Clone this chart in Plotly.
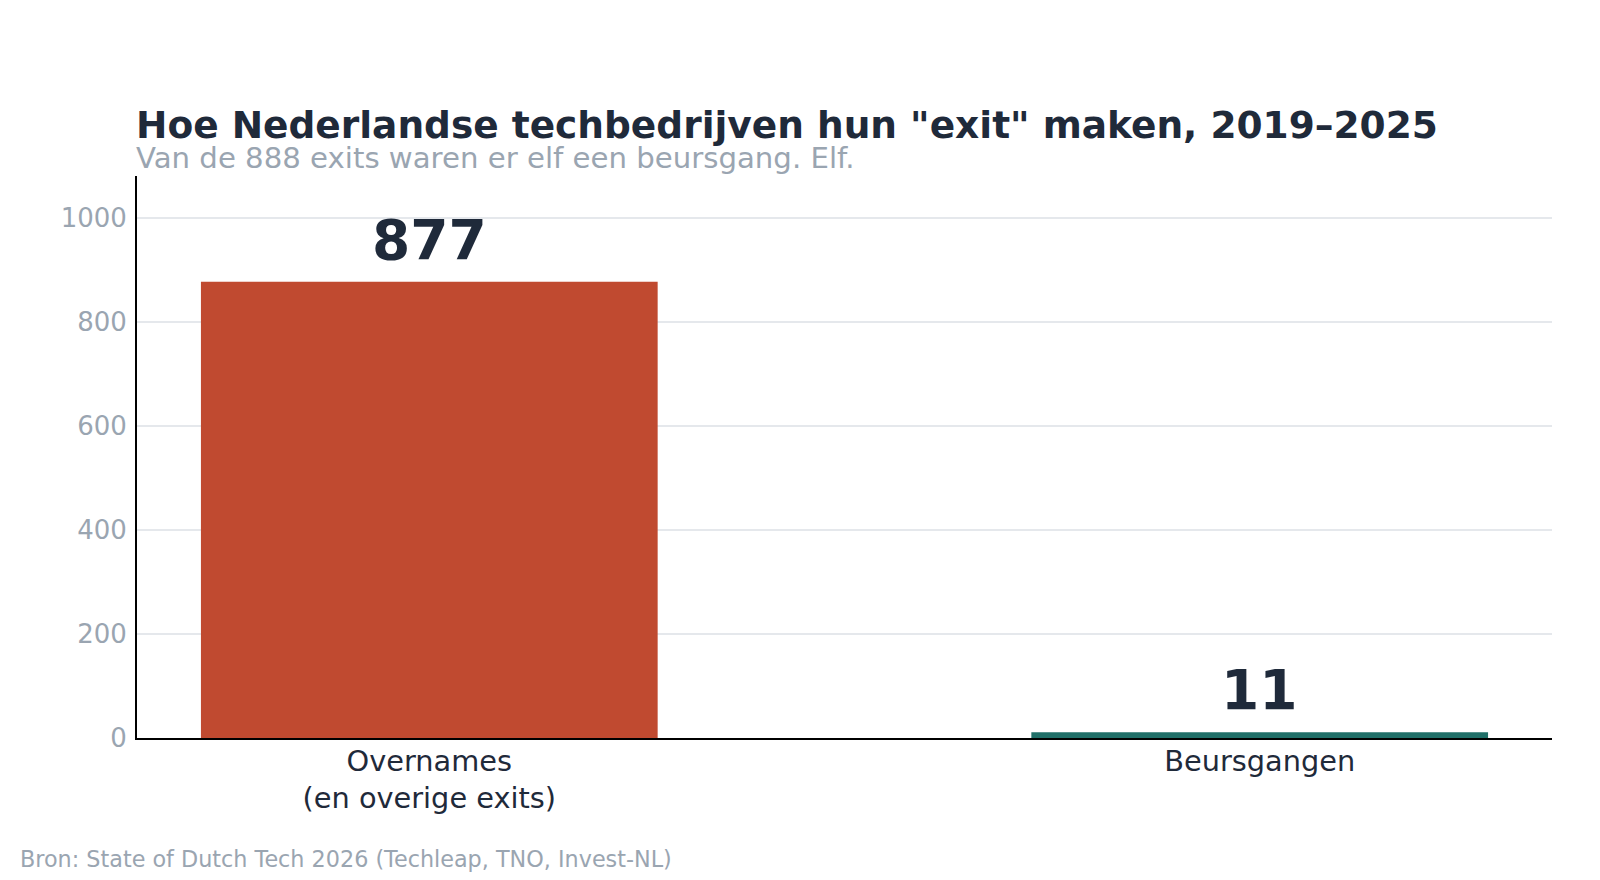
import plotly.graph_objects as go

categories = ["Overnames<br>(en overige exits)", "Beursgangen"]
values = [877, 11]
bar_colors = ["#c04a30", "#1f6f68"]
y_ticks = [0, 200, 400, 600, 800, 1000]

title = 'Hoe Nederlandse techbedrijven hun "exit" maken, 2019–2025'
subtitle = "Van de 888 exits waren er elf een beursgang. Elf."
source = "Bron: State of Dutch Tech 2026 (Techleap, TNO, Invest-NL)"

DARK = "#1f2a3a"
GRAY = "#9aa5b1"
FONT = "DejaVu Sans"

W, H = 1600, 880
L, R, T, B = 137, 48, 175.5, 142
ph = H - T - B

def py(px):
    return (H - B - px) / ph

fig = go.Figure()
fig.add_trace(go.Bar(
    x=[0, 1], y=values, marker=dict(color=bar_colors, line=dict(width=0)),
    width=0.55, hoverinfo="skip",
))

for i, v in enumerate(values):
    fig.add_annotation(x=i, y=v, xref="x", yref="y", text=f"<b>{v}</b>",
                       showarrow=False, yanchor="bottom", yshift=8,
                       font=dict(family=FONT, size=55, color=DARK))

fig.add_annotation(x=0, xref="paper", xanchor="left", y=py(124), yref="paper",
                   yanchor="middle", text=f"<b>{title}</b>", showarrow=False,
                   xshift=-3, font=dict(family=FONT, size=37.5, color=DARK))
fig.add_annotation(x=0, xref="paper", xanchor="left", y=py(157), yref="paper",
                   yanchor="middle", text=subtitle, showarrow=False,
                   xshift=-3, font=dict(family=FONT, size=29.2, color=GRAY))
fig.add_annotation(x=20 / W, xref="paper", xanchor="left", y=py(859), yref="paper",
                   yanchor="middle", text=source, showarrow=False,
                   xshift=-L, font=dict(family=FONT, size=22.3, color=GRAY))

fig.update_layout(
    width=W, height=H, autosize=False,
    margin=dict(l=L, r=R, t=T, b=B, pad=0),
    paper_bgcolor="white", plot_bgcolor="white",
    showlegend=False,
    font=dict(family=FONT),
    xaxis=dict(
        range=[-0.352, 1.352], tickmode="array", tickvals=[0, 1], ticktext=categories,
        showline=True, linecolor="black", linewidth=2, showgrid=False, zeroline=False,
        ticks="", ticklabelstandoff=-4,
        tickfont=dict(family=FONT, size=28.8, color=DARK), fixedrange=True,
    ),
    yaxis=dict(
        range=[0, 1080], tickmode="array", tickvals=y_ticks,
        showline=True, linecolor="black", linewidth=2,
        showgrid=True, gridcolor="#e5e8ec", gridwidth=2, zeroline=False,
        ticks="outside", ticklen=3, tickcolor="rgba(0,0,0,0)",
        tickfont=dict(family=FONT, size=26, color=GRAY), fixedrange=True,
    ),
)

fig.write_html("out.html")
